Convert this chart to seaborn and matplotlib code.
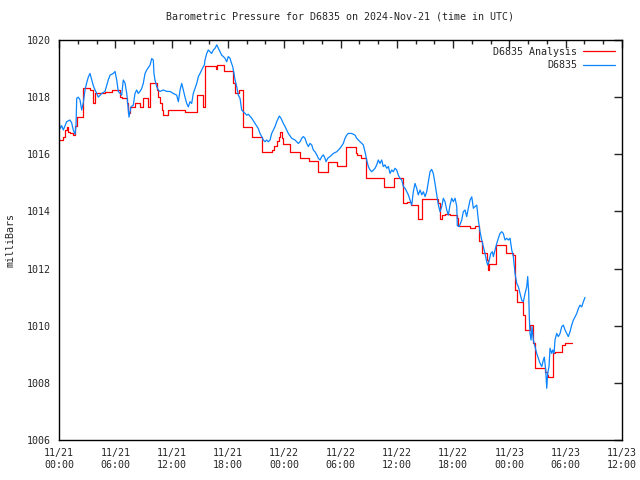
import pandas as pd
import matplotlib
matplotlib.use("Agg")
import matplotlib.pyplot as plt
import matplotlib.dates as mdates
from matplotlib.ticker import MultipleLocator
import seaborn as sns

# observed pressure (hours since 2024-11-21 00:00 UTC, millibars)
obs_hours = [0.00, 0.11, 0.29, 0.46, 0.82, 1.17, 1.35, 1.52, 1.71, 1.81, 1.89, 2.06, 2.24, 2.42, 2.59,
             2.77, 2.95, 3.12, 3.30, 3.49, 3.66, 3.84, 4.02, 4.19, 4.55, 4.90, 5.25, 5.44, 5.79, 5.97,
             6.15, 6.32, 6.68, 6.85, 7.03, 7.22, 7.39, 7.46, 7.67, 7.92, 8.10, 8.28, 8.45, 8.63, 8.81,
             8.98, 9.17, 9.35, 9.70, 9.88, 10.05, 10.12, 10.23, 10.41, 10.58, 10.76, 11.12, 11.48,
             11.83, 12.18, 12.54, 12.72, 12.90, 13.08, 13.25, 13.43, 13.61, 13.78, 13.96, 14.14,
             14.31, 14.49, 14.68, 14.85, 15.03, 15.21, 15.38, 15.49, 15.56, 15.74, 15.91, 16.09,
             16.27, 16.45, 16.63, 16.81, 16.98, 17.16, 17.34, 17.51, 17.69, 17.87, 18.04, 18.23,
             18.33, 18.51, 18.65, 18.76, 18.94, 19.11, 19.29, 19.47, 19.64, 20.01, 20.18, 20.54,
             20.89, 21.24, 21.42, 21.60, 21.77, 21.96, 22.13, 22.31, 22.49, 22.67, 22.84, 23.02,
             23.20, 23.37, 23.48, 23.66, 23.91, 24.09, 24.27, 24.44, 24.80, 25.15, 25.33, 25.50,
             25.69, 25.87, 26.04, 26.22, 26.40, 26.57, 26.75, 26.93, 27.10, 27.28, 27.47, 27.64,
             27.82, 28.00, 28.17, 28.35, 28.46, 28.64, 28.88, 29.24, 29.60, 29.95, 30.30, 30.48,
             30.66, 30.83, 31.20, 31.55, 31.73, 32.08, 32.43, 32.61, 32.79, 32.97, 33.15, 33.33,
             33.50, 33.68, 33.86, 34.03, 34.21, 34.39, 34.56, 34.74, 34.93, 35.10, 35.28, 35.46,
             35.63, 35.81, 35.99, 36.16, 36.34, 36.53, 36.70, 36.88, 37.06, 37.23, 37.41, 37.59,
             37.76, 37.94, 38.12, 38.29, 38.48, 38.66, 38.83, 39.01, 39.19, 39.36, 39.54, 39.72,
             39.89, 40.07, 40.26, 40.43, 40.61, 40.79, 40.96, 41.14, 41.32, 41.49, 41.67, 41.85,
             42.02, 42.21, 42.39, 42.45, 42.66, 42.92, 43.09, 43.27, 43.45, 43.62, 43.81, 43.99,
             44.16, 44.34, 44.52, 44.69, 44.87, 45.05, 45.22, 45.40, 45.58, 45.69, 45.86, 46.01,
             46.18, 46.29, 46.47, 46.65, 46.82, 47.00, 47.18, 47.35, 47.53, 47.72, 47.89, 48.07,
             48.25, 48.42, 48.60, 48.78, 48.95, 49.13, 49.31, 49.49, 49.67, 49.85, 49.95, 50.06,
             50.12, 50.20, 50.31, 50.41, 50.55, 50.73, 50.91, 51.09, 51.27, 51.45, 51.62, 51.72,
             51.87, 51.98, 52.08, 52.22, 52.33, 52.51, 52.62, 52.76, 52.86, 53.04, 53.22, 53.40,
             53.58, 53.75, 53.93, 54.11, 54.28, 54.46, 54.64, 54.82, 55.00, 55.18, 55.35, 55.53,
             55.71, 55.88, 56.06]
obs_mb = [1017.2, 1016.9, 1017.0, 1016.85, 1017.14, 1017.2, 1017.1, 1016.85, 1016.7, 1017.0, 1017.96,
          1018.0, 1017.9, 1017.55, 1017.8, 1018.25, 1018.5, 1018.7, 1018.83, 1018.6, 1018.4, 1018.25,
          1018.13, 1018.0, 1018.13, 1018.2, 1018.6, 1018.77, 1018.83, 1018.9, 1018.6, 1018.2, 1018.07,
          1018.6, 1018.5, 1018.13, 1017.55, 1017.3, 1017.66, 1017.72, 1018.13, 1018.25, 1018.13,
          1018.2, 1018.3, 1018.48, 1018.83, 1018.95, 1019.12, 1019.35, 1019.3, 1018.83, 1018.6,
          1018.37, 1018.25, 1018.2, 1018.25, 1018.2, 1018.2, 1018.13, 1018.07, 1017.84, 1018.25,
          1018.48, 1018.25, 1018.0, 1017.78, 1017.66, 1017.84, 1017.78, 1018.13, 1018.3, 1018.48,
          1018.72, 1018.83, 1018.95, 1019.07, 1019.12, 1019.3, 1019.53, 1019.65, 1019.59, 1019.53,
          1019.65, 1019.71, 1019.83, 1019.71, 1019.59, 1019.47, 1019.42, 1019.36, 1019.24, 1019.42,
          1019.36, 1019.24, 1019.07, 1018.83, 1018.6, 1018.37, 1018.07, 1017.96, 1017.55, 1017.49,
          1017.37, 1017.4, 1017.26, 1017.08, 1016.9, 1016.73, 1016.62, 1016.5, 1016.44, 1016.5,
          1016.44, 1016.5, 1016.73, 1016.85, 1016.97, 1017.14, 1017.26, 1017.34, 1017.26, 1017.08,
          1016.97, 1016.85, 1016.73, 1016.56, 1016.5, 1016.44, 1016.38, 1016.44, 1016.56, 1016.62,
          1016.56, 1016.38, 1016.27, 1016.38, 1016.33, 1016.15, 1016.09, 1015.98, 1015.86, 1015.8,
          1015.92, 1015.98, 1015.86, 1015.74, 1015.86, 1015.92, 1016.03, 1016.09, 1016.21, 1016.38,
          1016.56, 1016.67, 1016.73, 1016.73, 1016.67, 1016.56, 1016.44, 1016.33, 1016.09, 1015.8,
          1015.57, 1015.45, 1015.39, 1015.45, 1015.51, 1015.63, 1015.8, 1015.68, 1015.8, 1015.57,
          1015.63, 1015.51, 1015.57, 1015.33, 1015.45, 1015.39, 1015.51, 1015.45, 1015.27, 1015.16,
          1015.1, 1014.87, 1014.81, 1014.69, 1014.58, 1014.4, 1014.22, 1014.69, 1014.98, 1014.81,
          1014.58, 1014.75, 1014.58, 1014.69, 1014.52, 1014.69, 1015.04, 1015.39, 1015.47, 1015.33,
          1014.98, 1014.58, 1014.22, 1013.99, 1014.17, 1014.46, 1014.34, 1014.05, 1013.87, 1014.22,
          1014.46, 1014.34, 1014.46, 1014.17, 1013.5, 1013.47, 1013.7, 1013.99, 1014.05, 1013.82,
          1014.11, 1014.4, 1014.51, 1014.11, 1014.17, 1014.22, 1013.7, 1013.29, 1013.0, 1012.77,
          1012.53, 1012.24, 1012.12, 1012.3, 1012.53, 1012.59, 1012.42, 1012.65, 1012.88, 1013.06,
          1013.23, 1013.29, 1013.23, 1013.0, 1013.06, 1013.0, 1013.06, 1012.65, 1012.42, 1011.83,
          1011.48, 1011.37, 1011.13, 1010.9, 1010.84, 1011.13, 1011.37, 1011.72, 1011.13, 1010.31,
          1009.73, 1009.5, 1009.97, 1009.5, 1009.27, 1009.03, 1008.86, 1008.68, 1008.57, 1008.8,
          1008.9, 1008.45, 1007.81, 1008.33, 1008.57, 1009.21, 1009.03, 1009.15, 1009.03, 1009.5,
          1009.73, 1009.62, 1009.73, 1009.97, 1010.02, 1009.85, 1009.73, 1009.62, 1009.79, 1010.02,
          1010.2, 1010.31, 1010.43, 1010.6, 1010.72, 1010.66, 1010.84, 1010.99]

# analysis (step values, start hour of each step)
ana_hours = [0.00, 0.46, 0.64, 0.82, 0.99, 1.17, 1.52, 1.71, 1.89, 2.59, 3.30, 3.66, 3.84, 4.90, 5.62,
             6.50, 6.68, 7.22, 7.39, 7.57, 8.10, 8.63, 8.98, 9.45, 9.70, 10.48, 10.58, 10.76, 10.94,
             11.12, 11.65, 13.43, 14.68, 15.32, 15.56, 16.73, 16.81, 17.59, 18.51, 18.76, 19.21,
             19.64, 20.60, 21.60, 22.67, 22.92, 23.18, 23.40, 23.55, 23.73, 23.91, 24.62, 25.69,
             26.68, 27.57, 28.64, 29.60, 30.59, 31.65, 31.79, 32.19, 32.69, 34.67, 35.70, 36.63,
             36.70, 37.06, 37.49, 38.23, 38.72, 40.43, 40.61, 40.79, 41.14, 41.67, 42.39, 42.49,
             43.80, 44.30, 44.73, 45.12, 45.59, 45.73, 45.86, 46.55, 47.64, 48.42, 48.60, 48.78,
             49.42, 49.67, 50.20, 50.49, 50.73, 51.80, 51.98, 52.15, 52.62, 52.68, 52.86, 53.58,
             53.93, 54.64]
ana_mb = [1016.5, 1016.62, 1016.85, 1016.97, 1016.79, 1016.73, 1016.67, 1017.0, 1017.31, 1018.33,
          1018.25, 1017.8, 1018.13, 1018.17, 1018.25, 1018.0, 1017.96, 1017.78, 1017.43, 1017.66,
          1017.78, 1017.66, 1017.96, 1017.66, 1018.48, 1018.25, 1018.0, 1017.78, 1017.55, 1017.37,
          1017.54, 1017.49, 1018.07, 1017.66, 1019.09, 1018.98, 1019.12, 1018.91, 1018.5, 1018.13,
          1018.25, 1016.97, 1016.62, 1016.09, 1016.15, 1016.3, 1016.45, 1016.6, 1016.77, 1016.56,
          1016.36, 1016.09, 1015.88, 1015.77, 1015.39, 1015.74, 1015.59, 1016.27, 1016.03, 1015.98,
          1015.86, 1015.16, 1014.87, 1015.16, 1014.98, 1014.28, 1014.34, 1014.22, 1013.73, 1014.42,
          1014.31, 1013.73, 1013.87, 1013.9, 1013.87, 1013.76, 1013.49, 1013.41, 1013.49, 1012.98,
          1012.53, 1012.3, 1011.95, 1012.16, 1012.82, 1012.53, 1012.47, 1011.25, 1010.84, 1010.37,
          1009.85, 1010.02, 1009.38, 1008.51, 1008.39, 1008.27, 1008.21, 1008.6, 1009.03, 1009.09,
          1009.33, 1009.39, 1009.39]

start = pd.Timestamp("2024-11-21 00:00")
obs = pd.DataFrame({"time": start + pd.to_timedelta(obs_hours, unit="h"), "mb": obs_mb})
ana = pd.DataFrame({"time": start + pd.to_timedelta(ana_hours, unit="h"), "mb": ana_mb})

sns.set_style("white")
plt.rcParams["font.family"] = ["DejaVu Sans Mono", "DejaVu Sans"]
fs = 7.2

fig = plt.figure(figsize=(6.4, 4.8), dpi=100)
ax = fig.add_axes([59 / 640, 40 / 480, 563 / 640, 400 / 480])

sns.lineplot(data=ana, x="time", y="mb", ax=ax, color="#ff0000", lw=0.9,
             drawstyle="steps-post", estimator=None, label="D6835 Analysis")
sns.lineplot(data=obs, x="time", y="mb", ax=ax, color="#0a84ff", lw=0.9,
             estimator=None, label="D6835")

ax.set_xlim(start, start + pd.Timedelta(hours=60))
ax.set_ylim(1006, 1020)
ax.xaxis.set_major_locator(mdates.HourLocator(byhour=[0, 6, 12, 18]))
ax.xaxis.set_minor_locator(mdates.HourLocator(byhour=range(0, 24, 2)))
ax.xaxis.set_major_formatter(mdates.DateFormatter("%m/%d\n%H:%M"))
ax.yaxis.set_major_locator(MultipleLocator(2))

ax.tick_params(which="both", direction="in", top=True, right=True, labelsize=fs, pad=6)
ax.tick_params(which="major", length=6, width=1)
ax.tick_params(which="minor", length=3, width=1)
for s in ax.spines.values():
    s.set_color("black")
    s.set_linewidth(1)

ax.set_xlabel("")
ax.set_ylabel("milliBars", fontsize=fs, labelpad=8)
ax.set_title("Barometric Pressure for D6835 on 2024-Nov-21 (time in UTC)", fontsize=fs, pad=15)

ax.legend(loc="upper right", frameon=False, fontsize=fs, markerfirst=False,
          handlelength=3.2, borderaxespad=0.3, labelspacing=0.35, handletextpad=0.6)

fig.savefig("out.png", dpi=100)
